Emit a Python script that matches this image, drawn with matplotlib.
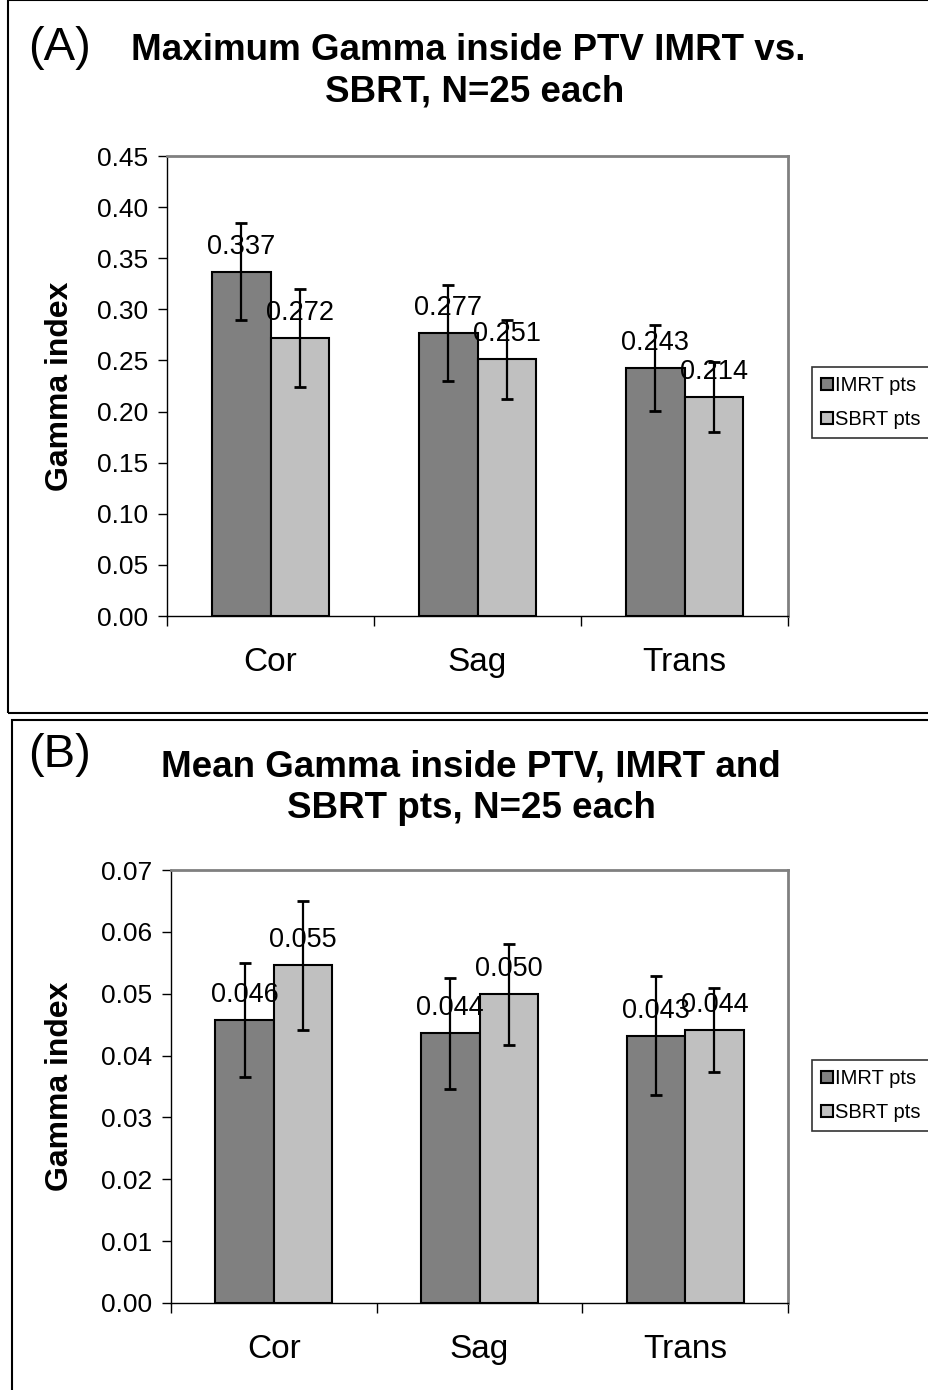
import matplotlib
matplotlib.use("Agg")
from matplotlib import pyplot as plt
from matplotlib.patches import Rectangle
import numpy as np

plt.rcParams['font.family'] = ['Liberation Sans', 'DejaVu Sans']

# Datos
categorias = ['Cor', 'Sag', 'Trans']
series = ['IMRT pts', 'SBRT pts']

max_imrt = [0.337, 0.277, 0.243]
max_sbrt = [0.272, 0.251, 0.214]
max_imrt_err = [0.047, 0.047, 0.042]
max_sbrt_err = [0.048, 0.039, 0.034]

mean_imrt = [0.0458, 0.0436, 0.0432]
mean_sbrt = [0.0546, 0.0499, 0.0441]
mean_imrt_err = [0.0092, 0.0090, 0.0096]
mean_sbrt_err = [0.0104, 0.0082, 0.0068]

W, H = 929, 1390
fig = plt.figure(figsize=(W / 100, H / 100), dpi=100)


def px_rect(left, top, right, bottom):
    # convierte pixeles (origen arriba a la izquierda) a coordenadas de figura
    return [left / W, 1 - bottom / H, (right - left) / W, (bottom - top) / H]


def graficar_panel(ax, imrt, sbrt, imrt_err, sbrt_err, ymax, paso, leg_box, xlab):
    x = np.arange(len(categorias))
    ancho = 0.285
    b1 = ax.bar(x - ancho / 2, imrt, ancho, color='#808080', edgecolor='black',
                linewidth=1.5, label=series[0], zorder=2)
    b2 = ax.bar(x + ancho / 2, sbrt, ancho, color='#c0c0c0', edgecolor='black',
                linewidth=1.5, label=series[1], zorder=2)
    for barras, vals, errs in [(b1, imrt, imrt_err), (b2, sbrt, sbrt_err)]:
        xs = [b.get_x() + b.get_width() / 2 for b in barras]
        ax.errorbar(xs, vals, yerr=errs, fmt='none', ecolor='black',
                    elinewidth=1.6, capsize=4.5, capthick=2, zorder=4)
        for xi, v in zip(xs, vals):
            ax.annotate(f"{v:.3f}", (xi, v), xytext=(0, 18), textcoords='offset points',
                        ha='center', va='center', fontsize=19.5, zorder=5)

    ax.set_xlim(-0.5, len(categorias) - 0.5)
    ax.set_ylim(0, ymax)
    ax.set_yticks(np.arange(0, ymax + paso / 2, paso))
    ax.yaxis.set_major_formatter(plt.FormatStrFormatter('%.2f'))
    ax.set_xticks(np.arange(-0.5, len(categorias), 1.0))
    ax.set_xticklabels([])
    ax.set_xticks(x, minor=True)
    ax.set_xticklabels(categorias, minor=True, fontsize=24)
    ax.tick_params(axis='x', which='minor', length=0, pad=22)
    ax.tick_params(axis='x', which='major', length=7, width=1, direction='out')
    ax.tick_params(axis='y', length=6.5, width=1, direction='out', labelsize=19, pad=7)
    ax.set_ylabel('Gamma index', fontsize=23, fontweight='bold')
    ax.yaxis.set_label_coords(xlab, 0.5)

    for lado in ['top', 'right']:
        ax.spines[lado].set_color('#808080')
        ax.spines[lado].set_linewidth(2)
    for lado in ['left', 'bottom']:
        ax.spines[lado].set_color('black')
        ax.spines[lado].set_linewidth(1)

    leg = ax.legend(loc='upper left', bbox_to_anchor=leg_box, bbox_transform=fig.transFigure,
                    fontsize=14.5, frameon=True, fancybox=False, handlelength=0.6,
                    handleheight=0.6, handletextpad=0.1, borderpad=0.45, labelspacing=0.75,
                    borderaxespad=0)
    leg.get_frame().set_edgecolor('black')
    leg.get_frame().set_linewidth(1.2)


# marcos de cada panel
fig.add_artist(Rectangle((8 / W, 1 - 713 / H), 1.0, 713 / H, transform=fig.transFigure,
                         fill=False, edgecolor='black', linewidth=1.5))
fig.add_artist(Rectangle((12 / W, -0.01), 1.0, 1 - 720 / H + 0.01, transform=fig.transFigure,
                         fill=False, edgecolor='black', linewidth=1.5))

# (A)
axA = fig.add_axes(px_rect(167, 156, 788, 616))
graficar_panel(axA, max_imrt, max_sbrt, max_imrt_err, max_sbrt_err, 0.45, 0.05,
               (812 / W, 1 - 367 / H), -0.148)
fig.text(28 / W, 1 - 48 / H, '(A)', fontsize=34, va='center', ha='left')
fig.text(468 / W, 1 - 50 / H, 'Maximum Gamma inside PTV IMRT vs.', fontsize=26.5,
         fontweight='bold', ha='center', va='center')
fig.text(475 / W, 1 - 92 / H, 'SBRT, N=25 each', fontsize=26.5,
         fontweight='bold', ha='center', va='center')

# (B)
axB = fig.add_axes(px_rect(171, 870, 788, 1303))
graficar_panel(axB, mean_imrt, mean_sbrt, mean_imrt_err, mean_sbrt_err, 0.07, 0.01,
               (812 / W, 1 - 1060 / H), -0.156)
fig.text(28 / W, 1 - 755 / H, '(B)', fontsize=34, va='center', ha='left')
fig.text(471 / W, 1 - 767 / H, 'Mean Gamma inside PTV, IMRT and', fontsize=26.5,
         fontweight='bold', ha='center', va='center')
fig.text(471 / W, 1 - 808 / H, 'SBRT pts, N=25 each', fontsize=26.5,
         fontweight='bold', ha='center', va='center')

fig.savefig('out.png', dpi=100)
